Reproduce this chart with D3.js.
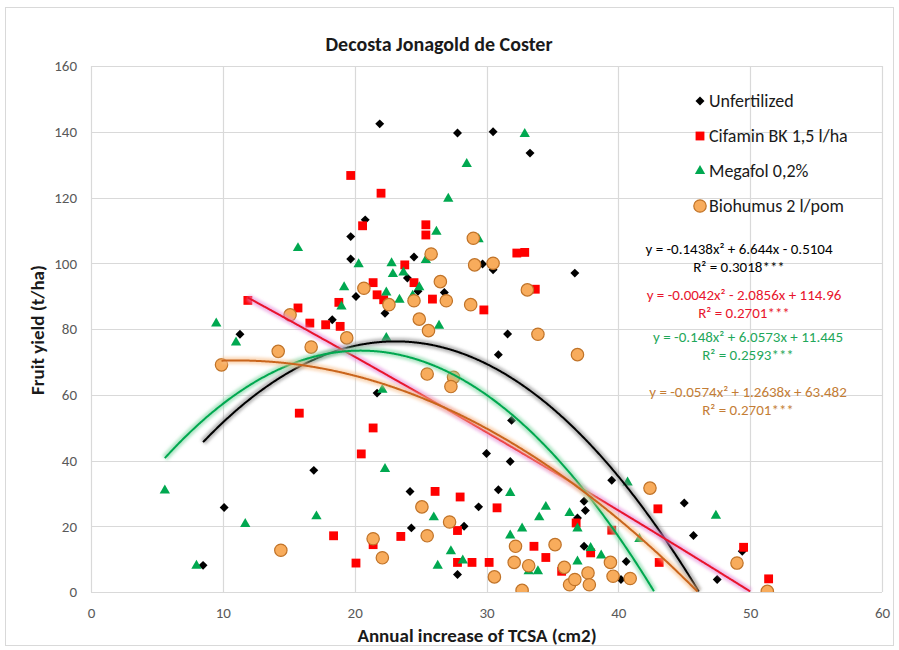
<!DOCTYPE html>
<html>
<head>
<meta charset="utf-8">
<script src="https://cdn.jsdelivr.net/npm/d3@7"></script>
<style>
  body { margin: 0; background: #fff; }
  text { font-family: Carlito, Lato, "Noto Sans", sans-serif; }
</style>
</head>
<body>
<div id="chart"></div>
<script>
// scatter values: [TCSA increase, fruit yield]
var unfertilized = [
  [21.9,142.4],[27.8,139.6],[30.5,140],[33.3,133.5],[36.7,97],[20.8,113.2],[19.7,108.1],
  [19.7,101.3],[24.5,101.9],[30.5,98],[29.7,99.8],[20.1,89.9],[24.0,95.5],[22.3,84.8],
  [26.8,91.1],[18.3,82.8],[31.6,78.5],[11.3,78.4],[16.9,37],[10.1,25.7],[8.5,8.1],
  [30.9,72.2],[21.7,60.5],[31.9,52.2],[30.0,42.1],[31.8,39.7],[24.2,30.6],[30.9,31.1],
  [29.4,25.9],[24.3,19.5],[28.3,20],[27.8,5.3],[36.9,22.5],[39.5,34],[37.4,27.6],
  [37.5,24.8],[45,27.1],[45.7,17.2],[37.4,13.9],[40.6,9.3],[40.2,3.8],[47.5,3.8],
  [49.4,12.4],[24.8,91.5]
];
var cifamin = [
  [19.7,126.7],[20.6,111.4],[11.9,88.7],[15.7,86.4],[16.6,81.8],[17.8,81.3],[18.8,88.1],
  [18.9,80.8],[22.0,121.3],[25.4,111.7],[25.4,108.6],[23.8,99.5],[21.4,94.1],[21.7,90.4],
  [22.2,88.9],[24.5,94.1],[25.9,89.1],[29.8,85.8],[32.3,103.1],[32.9,103.3],[33.7,92.1],
  [15.8,54.4],[20.5,42.0],[18.4,17.1],[20.1,8.8],[21.4,49.9],[26.1,30.6],[28.0,28.9],
  [30.8,25.6],[23.5,16.9],[27.8,18.7],[21.4,14.4],[27.8,9.0],[28.9,9.0],[30.2,9.0],
  [33.6,13.9],[34.5,10.5],[35.7,6.3],[36.8,21.0],[43.0,25.3],[39.5,18.8],[37.9,11.9],
  [43.1,9.0],[49.5,13.6],[51.4,4.0]
];
var megafol = [
  [32.9,139.3],[28.5,130.2],[27.1,119.6],[26.2,109.6],[29.4,107.3],[20.3,99.7],[22.8,100],
  [22.9,96.7],[23.7,97.2],[25.4,101],[19.2,92.7],[24.9,92.7],[22.4,91.1],[23.4,88.9],
  [19.0,86.8],[24.4,90.1],[26.4,81.0],[22.4,77.3],[15.7,104.6],[9.5,81.7],[11.0,75.9],
  [5.6,30.9],[11.7,20.7],[17.1,23.0],[8.0,8.0],[22.1,61.5],[22.3,37.4],[26.0,22.7],
  [27.3,12.4],[28.2,9.6],[26.3,8.0],[31.8,30.1],[34.5,25.9],[34.0,22.7],[32.7,19.3],
  [31.8,17.2],[36.3,24.0],[36.9,19.3],[33.2,6.3],[33.9,6.3],[36.9,9.3],[40.7,33.3],
  [47.4,23.2],[37.9,13.4],[38.7,11.1],[41.6,16.1]
];
var biohumus = [
  [29.0,107.6],[25.8,102.8],[29.1,99.5],[30.5,100],[26.5,94.4],[20.7,92.4],[22.6,87.4],
  [24.5,88.6],[26.95,88.6],[28.8,87.4],[33.1,91.9],[24.9,83.0],[25.6,79.5],[33.9,78.4],
  [19.4,77.3],[15.1,84.3],[14.2,73.2],[16.7,74.5],[9.9,69.1],[14.4,12.7],[36.9,72.2],
  [25.5,66.3],[27.5,65.3],[27.3,62.5],[25.1,25.9],[27.2,21.3],[25.5,17.1],[21.4,16.2],
  [22.1,10.4],[32.2,13.9],[32.1,9.0],[33.2,8.0],[30.6,4.6],[32.7,0.5],[35.2,14.4],
  [35.9,7.5],[36.3,2.2],[36.7,3.8],[42.4,31.6],[49.0,8.8],[51.3,0.2],[37.7,5.8],
  [37.8,2.2],[39.4,9.0],[39.6,4.8],[40.9,4.1]
];

var seriesNames = ["Unfertilized", "Cifamin BK 1,5 l/ha", "Megafol 0,2%", "Biohumus 2 l/pom"];
// polynomial trendline coefficients [a, b, c] for y = a*x^2 + b*x + c
var trendCoef = [
  [-0.1438, 6.644, -0.5104],
  [-0.0042, -2.0856, 114.96],
  [-0.148, 6.0573, 11.445],
  [-0.0574, 1.2638, 63.482]
];
var equations = [
  "y = -0.1438x² + 6.644x - 0.5104",
  "y = -0.0042x² - 2.0856x + 114.96",
  "y = -0.148x² + 6.0573x + 11.445",
  "y = -0.0574x² + 1.2638x + 63.482"
];
var rSquared = ["R² = 0.3018***", "R² = 0.2701***", "R² = 0.2593***", "R² = 0.2701***"];
var xTicks = [0, 10, 20, 30, 40, 50, 60];
var yTicks = [0, 20, 40, 60, 80, 100, 120, 140, 160];

var allSeries = [unfertilized, cifamin, megafol, biohumus];
var markerColor = ["#000000", "#ff0000", "#00a850", "#f8ac5c"];
var lineColor = ["#000000", "#e8142c", "#00a850", "#c9651c"];
var glowColor = ["#8a8a8a", "#e58ad8", "#7fd6a2", "#f6c08c"];
var eqColor = ["#000000", "#e8142c", "#1fa75a", "#c47d35"];

var W = 899, H = 650;
var svg = d3.select("#chart").append("svg")
  .attr("width", W).attr("height", H);

var defs = svg.append("defs");
defs.append("clipPath").attr("id", "plotclip")
  .append("rect").attr("x", 91).attr("y", 66).attr("width", 791).attr("height", 526);
defs.append("filter").attr("id", "glow")
  .attr("x", "-10%").attr("y", "-10%").attr("width", "120%").attr("height", "120%")
  .append("feGaussianBlur").attr("stdDeviation", 1.6);

// chart border
svg.append("rect")
  .attr("x", 5.5).attr("y", 7.5).attr("width", 888).attr("height", 638)
  .attr("fill", "#fff").attr("stroke", "#d9d9d9");

var x = d3.scaleLinear().domain([0, 60]).range([91, 882]);
var y = d3.scaleLinear().domain([0, 160]).range([592, 66]);

// gridlines
svg.append("g").selectAll("line").data(yTicks).enter().append("line")
  .attr("x1", x(0)).attr("x2", x(60))
  .attr("y1", function(d) { return Math.round(y(d)) + 0.5; })
  .attr("y2", function(d) { return Math.round(y(d)) + 0.5; })
  .attr("stroke", "#d9d9d9").attr("stroke-width", 1.2);
svg.append("g").selectAll("line").data(xTicks).enter().append("line")
  .attr("y1", y(0)).attr("y2", y(160))
  .attr("x1", function(d) { return Math.round(x(d)) + 0.5; })
  .attr("x2", function(d) { return Math.round(x(d)) + 0.5; })
  .attr("stroke", "#d9d9d9").attr("stroke-width", 1.2);

// axes (labels only, lines are the grid)
var xAxis = svg.append("g")
  .attr("transform", "translate(0," + (y(0) + 9) + ")")
  .call(d3.axisBottom(x).tickValues(xTicks).tickSize(0).tickPadding(6));
xAxis.select(".domain").remove();
xAxis.selectAll("text").attr("font-size", 15).attr("fill", "#595959")
  .style("font-family", "Carlito, Lato, sans-serif");

var yAxis = svg.append("g")
  .attr("transform", "translate(" + (x(0) - 14) + ",0)")
  .call(d3.axisLeft(y).tickValues(yTicks).tickSize(0).tickPadding(0));
yAxis.select(".domain").remove();
yAxis.selectAll("text").attr("font-size", 15).attr("fill", "#595959")
  .style("font-family", "Carlito, Lato, sans-serif");

// titles
svg.append("text").attr("x", 439).attr("y", 51)
  .attr("text-anchor", "middle").attr("font-size", 20).attr("font-weight", "bold")
  .attr("fill", "#1a1a1a").text("Decosta Jonagold de Coster");
svg.append("text").attr("x", 477).attr("y", 642)
  .attr("text-anchor", "middle").attr("font-size", 19).attr("font-weight", "bold")
  .attr("fill", "#1a1a1a").text("Annual increase of TCSA (cm2)");
svg.append("text")
  .attr("transform", "translate(44,330) rotate(-90)")
  .attr("text-anchor", "middle").attr("font-size", 19).attr("font-weight", "bold")
  .attr("fill", "#1a1a1a").text("Fruit yield (t/ha)");

// marker shapes
function drawMarker(sel, i) {
  if (i === 0) {
    sel.append("path").attr("d", d3.symbol().type(d3.symbolSquare).size(40)())
      .attr("transform", "rotate(45)").attr("fill", markerColor[0]);
  } else if (i === 1) {
    sel.append("path").attr("d", d3.symbol().type(d3.symbolSquare).size(78)())
      .attr("fill", markerColor[1]);
  } else if (i === 2) {
    sel.append("path").attr("d", d3.symbol().type(d3.symbolTriangle).size(46)())
      .attr("fill", markerColor[2]);
  } else {
    sel.append("circle").attr("r", 6.2)
      .attr("fill", markerColor[3]).attr("stroke", "#c07328").attr("stroke-width", 1.2);
  }
}

var plot = svg.append("g").attr("clip-path", "url(#plotclip)");

allSeries.forEach(function(data, i) {
  plot.append("g").selectAll("g").data(data).enter().append("g")
    .attr("transform", function(d) { return "translate(" + x(d[0]) + "," + y(d[1]) + ")"; })
    .each(function() { drawMarker(d3.select(this), i); });
});

// polynomial trendlines over each series' x range
var line = d3.line()
  .x(function(d) { return x(d[0]); })
  .y(function(d) { return y(d[1]); })
  .curve(d3.curveMonotoneX);

allSeries.forEach(function(data, i) {
  var ext = d3.extent(data, function(d) { return d[0]; });
  var c = trendCoef[i];
  var pts = [];
  for (var t = ext[0]; t <= ext[1] + 1e-9; t += 0.1) {
    var v = c[0] * t * t + c[1] * t + c[2];
    if (v < 0) {
      break;
    }
    pts.push([t, v]);
  }
  plot.append("path").datum(pts).attr("d", line)
    .attr("fill", "none").attr("stroke", glowColor[i]).attr("stroke-width", 7)
    .attr("stroke-opacity", 0.6).attr("filter", "url(#glow)");
  plot.append("path").datum(pts).attr("d", line)
    .attr("fill", "none").attr("stroke", lineColor[i]).attr("stroke-width", 2);
});

// legend
var legend = svg.append("g").selectAll("g").data(seriesNames).enter().append("g")
  .attr("transform", function(d, i) { return "translate(700," + (101 + i * 35) + ")"; });
legend.each(function(d, i) { drawMarker(d3.select(this), i); });
legend.append("text").attr("x", 9).attr("y", 6)
  .attr("font-size", 18).attr("fill", "#1a1a1a").text(function(d) { return d; });

// equations
var eqX = [739, 744, 748, 748];
var eqY = [254, 300, 342, 397];
equations.forEach(function(eq, i) {
  svg.append("text").attr("x", eqX[i]).attr("y", eqY[i])
    .attr("text-anchor", "middle").attr("font-size", 15).attr("fill", eqColor[i]).text(eq);
  svg.append("text").attr("x", eqX[i]).attr("y", eqY[i] + 18)
    .attr("text-anchor", "middle").attr("font-size", 15).attr("fill", eqColor[i]).text(rSquared[i]);
});
</script>
</body>
</html>
